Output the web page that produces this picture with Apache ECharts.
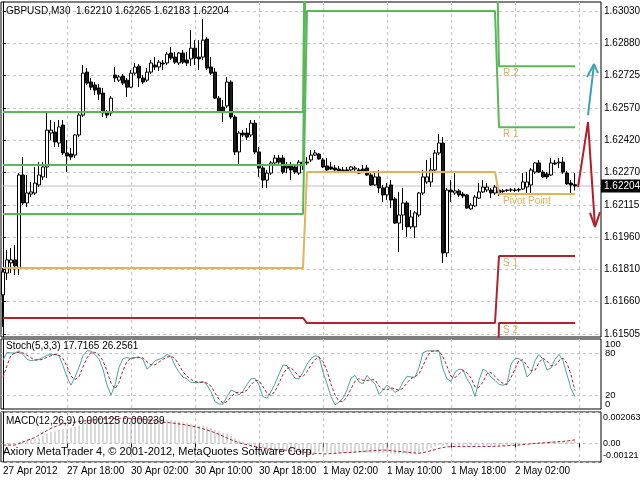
<!DOCTYPE html>
<html><head><meta charset="utf-8">
<script src="https://cdn.jsdelivr.net/npm/echarts@6/dist/echarts.min.js"></script>
<style>html,body{margin:0;padding:0;background:#fff}#c{width:640px;height:480px}</style>
</head><body><div id="c"></div>
<script>
const symbolName = 'GBPUSD,M30';
const openP = [1.61690,1.61793,1.61841,1.61855,1.61817,1.62256,1.62124,1.62166,1.62171,1.62209,
1.62247,1.62294,1.62454,1.62459,1.62407,1.62492,1.62360,1.62355,1.62350,1.62445,
1.62539,1.62742,1.62695,1.62681,1.62667,1.62643,1.62549,1.62549,1.62728,1.62704,
1.62723,1.62704,1.62671,1.62737,1.62770,1.62714,1.62704,1.62742,1.62775,1.62766,
1.62785,1.62785,1.62832,1.62813,1.62785,1.62832,1.62799,1.62804,1.62855,1.62813,
1.62813,1.62898,1.62766,1.62742,1.62619,1.62577,1.62582,1.62695,1.62530,1.62365,
1.62454,1.62454,1.62445,1.62501,1.62365,1.62289,1.62232,1.62265,1.62313,1.62336,
1.62336,1.62303,1.62303,1.62294,1.62265,1.62317,1.62313,1.62327,1.62350,1.62355,
1.62327,1.62299,1.62294,1.62289,1.62284,1.62280,1.62280,1.62280,1.62284,1.62280,
1.62284,1.62289,1.62256,1.62209,1.62247,1.62195,1.62162,1.62209,1.62143,1.62029,
1.62067,1.62124,1.62011,1.62011,1.62067,1.62171,1.62223,1.62223,1.62280,1.62360,
1.62407,1.61888,1.62185,1.62171,1.62181,1.62166,1.62162,1.62096,1.62110,1.62147,
1.62176,1.62185,1.62185,1.62171,1.62185,1.62181,1.62185,1.62185,1.62185,1.62185,
1.62190,1.62199,1.62209,1.62270,1.62313,1.62270,1.62261,1.62256,1.62313,1.62313,
1.62317,1.62265,1.62218,1.62210];
const highP = [1.61817,1.61902,1.61911,1.61926,1.62265,1.62341,1.62256,1.62223,1.62294,1.62317,
1.62317,1.62549,1.62516,1.62506,1.62516,1.62516,1.62421,1.62383,1.62450,1.62549,
1.62775,1.62761,1.62714,1.62695,1.62685,1.62667,1.62563,1.62629,1.62766,1.62728,
1.62733,1.62714,1.62752,1.62785,1.62780,1.62728,1.62761,1.62799,1.62813,1.62799,
1.62799,1.62837,1.62860,1.62837,1.62837,1.62846,1.62837,1.62940,1.62893,1.62893,
1.62992,1.62907,1.62813,1.62761,1.62629,1.62610,1.62719,1.62704,1.62539,1.62464,
1.62468,1.62478,1.62516,1.62516,1.62388,1.62303,1.62280,1.62322,1.62350,1.62350,
1.62350,1.62317,1.62317,1.62308,1.62327,1.62327,1.62341,1.62374,1.62374,1.62360,
1.62336,1.62336,1.62317,1.62303,1.62299,1.62294,1.62294,1.62299,1.62299,1.62289,
1.62303,1.62303,1.62265,1.62270,1.62280,1.62209,1.62218,1.62232,1.62152,1.62176,
1.62195,1.62133,1.62091,1.62086,1.62176,1.62280,1.62327,1.62336,1.62374,1.62450,
1.62435,1.62195,1.62232,1.62270,1.62190,1.62176,1.62166,1.62124,1.62162,1.62218,
1.62232,1.62218,1.62195,1.62209,1.62195,1.62190,1.62190,1.62195,1.62195,1.62195,
1.62265,1.62270,1.62289,1.62317,1.62327,1.62280,1.62270,1.62336,1.62327,1.62336,
1.62341,1.62275,1.62232,1.62265];
const lowP = [1.61539,1.61760,1.61793,1.61784,1.61784,1.62114,1.62105,1.62152,1.62162,1.62199,
1.62232,1.62242,1.62421,1.62388,1.62388,1.62350,1.62270,1.62327,1.62336,1.62435,
1.62530,1.62681,1.62657,1.62634,1.62610,1.62530,1.62525,1.62535,1.62695,1.62695,
1.62681,1.62624,1.62667,1.62728,1.62671,1.62685,1.62695,1.62733,1.62752,1.62747,
1.62752,1.62775,1.62799,1.62780,1.62775,1.62780,1.62770,1.62770,1.62775,1.62752,
1.62799,1.62752,1.62728,1.62615,1.62549,1.62506,1.62572,1.62520,1.62350,1.62303,
1.62435,1.62421,1.62435,1.62355,1.62247,1.62195,1.62195,1.62256,1.62303,1.62308,
1.62261,1.62265,1.62232,1.62261,1.62256,1.62280,1.62303,1.62317,1.62346,1.62327,
1.62289,1.62275,1.62280,1.62275,1.62265,1.62270,1.62270,1.62275,1.62275,1.62261,
1.62265,1.62251,1.62204,1.62204,1.62171,1.62129,1.62138,1.62100,1.62025,1.61893,
1.61996,1.61963,1.62001,1.61959,1.62058,1.62162,1.62214,1.62199,1.62270,1.62350,
1.61841,1.61869,1.62129,1.62162,1.62152,1.62147,1.62096,1.62091,1.62105,1.62143,
1.62171,1.62176,1.62147,1.62162,1.62157,1.62171,1.62176,1.62176,1.62176,1.62176,
1.62185,1.62171,1.62166,1.62261,1.62265,1.62242,1.62237,1.62251,1.62303,1.62289,
1.62261,1.62209,1.62171,1.62183];
const closeP = [1.61798,1.61855,1.61855,1.61827,1.62256,1.62124,1.62171,1.62176,1.62218,1.62256,
1.62294,1.62468,1.62468,1.62412,1.62483,1.62360,1.62346,1.62341,1.62445,1.62539,
1.62737,1.62690,1.62671,1.62657,1.62638,1.62549,1.62539,1.62619,1.62714,1.62719,
1.62690,1.62671,1.62737,1.62766,1.62714,1.62695,1.62742,1.62785,1.62766,1.62789,
1.62780,1.62827,1.62808,1.62789,1.62832,1.62789,1.62785,1.62855,1.62808,1.62804,
1.62893,1.62761,1.62737,1.62619,1.62553,1.62553,1.62695,1.62530,1.62365,1.62454,
1.62445,1.62435,1.62501,1.62365,1.62289,1.62232,1.62265,1.62313,1.62336,1.62317,
1.62270,1.62289,1.62280,1.62270,1.62317,1.62303,1.62317,1.62350,1.62360,1.62332,
1.62294,1.62280,1.62284,1.62280,1.62275,1.62277,1.62275,1.62294,1.62289,1.62265,
1.62270,1.62256,1.62209,1.62247,1.62195,1.62162,1.62199,1.62138,1.62029,1.62067,
1.62124,1.62011,1.62058,1.62077,1.62171,1.62247,1.62247,1.62280,1.62360,1.62407,
1.61888,1.62185,1.62176,1.62181,1.62162,1.62157,1.62100,1.62114,1.62152,1.62176,
1.62199,1.62199,1.62171,1.62199,1.62171,1.62178,1.62183,1.62186,1.62183,1.62188,
1.62223,1.62223,1.62280,1.62313,1.62270,1.62247,1.62247,1.62313,1.62308,1.62317,
1.62270,1.62214,1.62209,1.62204];

const timeLabels = ['27 Apr 2012','27 Apr 18:00','30 Apr 02:00','30 Apr 10:00','30 Apr 18:00','1 May 02:00','1 May 10:00','1 May 18:00','2 May 02:00'];
const timeLabelBars = [0,16,32,48,64,80,96,112,128];
const timeGridBars = [0,16,32,48,64,80,96,112,128,144];
const priceTicks = [1.61505,1.61660,1.61810,1.61960,1.62115,1.62270,1.62420,1.62570,1.62725,1.62880,1.63030];

const pivotDayStart = [0,76,124];
const pivotR3 = [1.62553,1.64500,1.63100];
const pivotR2 = [1.62303,1.63740,1.62770];
const pivotR1 = [1.62072,1.63030,1.62482];
const pivotPP = [1.61817,1.62270,1.62166];
const pivotS1 = [1.61581,1.61557,1.61873];
const pivotS2 = [1.61331,1.60800,1.61557];
const pivotS3 = [1.61095,1.60100,1.61267];
const pivotLabelBar = 125;

const stochK = [70,81,80,80,83,78,71,69,70,71,
73.5,77,78,78,76,62,45.6,34,45.6,59.5,
76,83,83,78,71,57,34,20,34,59.5,
72,73.5,72,73.5,74.5,71,57,62,69,71,
73.5,78,75,62,52.6,45.6,43,37.7,37.7,37.7,
39.5,34,24.7,10.7,7,7,17.7,27,24.7,20,
25.6,35,43,44,34,17.7,15.4,24.7,36,50,
62.8,62,52.6,44,43,52.6,64,72,76,75,
52.6,36,17.7,6,9.8,15.4,27,44,48,38.6,
36,48,41,36,21,27,34,29.3,23.7,27,
38.6,47,45.6,45.6,59.5,80.5,83,83,83,83,
57,43,39.5,52.6,57,56,43,34,17.7,41,
57,53.5,45.6,41,35,34,36,64,72,72,
66.5,45.6,51.7,69,78,71,56,58.5,71,78,
69,49,29.3,17.7165];
const stochD = [45,62,77,80,81,80,77,73,70,70,
71,74,76,78,77,72,61,47,42,46,
60,73,81,81,77,69,54,37,29,38,
55,68,72.5,73,73.3,73,67.5,63,63,67,
71,74,75.5,72,63,53,47,42,39.5,37.7,
38.3,37,32.7,23,14,8.2,10.6,17,23,24,
23.4,27,34.5,40.7,40.3,32,22.4,19.3,25.4,36.9,
49.6,58.3,59.1,52.9,46.5,46.5,53.2,62.9,70.7,74.3,
67.9,54.5,35.4,19.9,11.2,10.4,17.4,28.8,39.7,43.5,
40.9,40.9,41.7,41.7,32.7,28,27.3,30.1,29,26.7,
29.8,37.5,43.7,46.1,50.2,61.9,74.3,82.2,83,83,
74.3,61,46.5,45,49.7,55.2,52,44.3,31.6,30.9,
38.6,50.5,52,46.7,40.5,36.7,35,44.7,57.3,69.3,
70.2,61.4,54.6,55.4,66.2,72.7,68.3,61.8,61.8,69.2,
72.7,65.3,49.1,26.2561];
const stochLevelTicks = [20,80];
const stochRangeTicks = [0,100];

const macdMain = [-0.3e-4,-0.3e-4,-0.2e-4,0,1e-4,2e-4,2.5e-4,3e-4,3.5e-4,4e-4,
5e-4,6.5e-4,7.5e-4,8e-4,9e-4,9.5e-4,10e-4,10.5e-4,11e-4,12e-4,
14e-4,15e-4,15.5e-4,15.5e-4,15.5e-4,15e-4,14.5e-4,14.5e-4,15e-4,15.5e-4,
15.5e-4,15.5e-4,16e-4,16e-4,16e-4,16e-4,16e-4,16e-4,16e-4,16e-4,
15.5e-4,15.5e-4,15.5e-4,15e-4,14.5e-4,14e-4,13.5e-4,13e-4,12.5e-4,12e-4,
12e-4,11e-4,10e-4,9e-4,8e-4,7e-4,6.5e-4,5e-4,3.5e-4,2e-4,
1e-4,0,-0.5e-4,-1.5e-4,-2.5e-4,-3e-4,-3.5e-4,-3.5e-4,-3.5e-4,-3.5e-4,
-4e-4,-4e-4,-4.5e-4,-4.5e-4,-5e-4,-5e-4,-5.5e-4,-5.5e-4,-5.5e-4,-5.5e-4,
-6e-4,-6e-4,-6e-4,-6e-4,-6e-4,-6e-4,-6e-4,-6e-4,-6e-4,-6e-4,
-6e-4,-6e-4,-6e-4,-6e-4,-6.5e-4,-6.5e-4,-6.5e-4,-6.5e-4,-7e-4,-7e-4,
-7e-4,-7e-4,-7e-4,-6.5e-4,-6e-4,-5e-4,-4e-4,-3e-4,-2e-4,-1e-4,
-1.5e-4,-1.5e-4,-1.5e-4,-1.5e-4,-1.5e-4,-1.5e-4,-1.5e-4,-1.5e-4,-1.5e-4,-1.5e-4,
-1.5e-4,-1.5e-4,-1.5e-4,-1.5e-4,-1.5e-4,-1.5e-4,-1e-4,-1e-4,-0.5e-4,-0.5e-4,
0,0,0.5e-4,0.5e-4,1e-4,1e-4,1e-4,1.5e-4,1.5e-4,1.5e-4,
1.5e-4,1.5e-4,1.5e-4,1.25e-4];
const macdSignal = [-0.1e-3,-0.1e-3,-0.1e-3,-0.1e-3,0,0.1e-3,0.2e-3,0.3e-3,0.4e-3,0.55e-3,
0.7e-3,0.85e-3,1.0e-3,1.1e-3,1.2e-3,1.3e-3,1.32e-3,1.36e-3,1.4e-3,1.44e-3,
1.47e-3,1.5e-3,1.53e-3,1.56e-3,1.6e-3,1.61e-3,1.62e-3,1.63e-3,1.65e-3,1.65e-3,
1.65e-3,1.65e-3,1.65e-3,1.64e-3,1.62e-3,1.6e-3,1.56e-3,1.53e-3,1.5e-3,1.45e-3,
1.4e-3,1.38e-3,1.35e-3,1.32e-3,1.28e-3,1.25e-3,1.2e-3,1.15e-3,1.1e-3,1.04e-3,
0.96e-3,0.88e-3,0.8e-3,0.71e-3,0.6e-3,0.48e-3,0.36e-3,0.25e-3,0.15e-3,0.05e-3,
-0.02e-3,-0.08e-3,-0.14e-3,-0.2e-3,-0.25e-3,-0.3e-3,-0.32e-3,-0.35e-3,-0.38e-3,-0.41e-3,
-0.43e-3,-0.45e-3,-0.48e-3,-0.5e-3,-0.53e-3,-0.56e-3,-0.59e-3,-0.62e-3,-0.64e-3,-0.66e-3,
-0.68e-3,-0.68e-3,-0.66e-3,-0.64e-3,-0.62e-3,-0.6e-3,-0.59e-3,-0.58e-3,-0.56e-3,-0.54e-3,
-0.52e-3,-0.5e-3,-0.48e-3,-0.46e-3,-0.44e-3,-0.43e-3,-0.44e-3,-0.47e-3,-0.5e-3,-0.52e-3,
-0.54e-3,-0.57e-3,-0.6e-3,-0.62e-3,-0.64e-3,-0.6e-3,-0.53e-3,-0.47e-3,-0.4e-3,-0.32e-3,
-0.26e-3,-0.22e-3,-0.2e-3,-0.2e-3,-0.2e-3,-0.2e-3,-0.2e-3,-0.2e-3,-0.2e-3,-0.2e-3,
-0.2e-3,-0.2e-3,-0.19e-3,-0.18e-3,-0.17e-3,-0.16e-3,-0.15e-3,-0.13e-3,-0.11e-3,-0.1e-3,
-0.07e-3,-0.05e-3,-0.02e-3,0,0.02e-3,0.04e-3,0.06e-3,0.08e-3,0.1e-3,0.12e-3,
0.14e-3,0.17e-3,0.2e-3,0.239e-3];
const macdTicks = [-0.00121,0,0.002063];

// hand-drawn arrow objects (bar index, price)
const arrowUpPath = [[146.25,1.62539],[147.75,1.62780]];
const arrowUpHead = [[146.0,1.62719],[147.75,1.62780],[148.75,1.62737]];
const arrowDownPath = [[143.75,1.62199],[146.25,1.62506],[148.0,1.62011]];
const arrowDownHead = [[146.75,1.62077],[148.0,1.62011],[149.25,1.62081]];

const FONT = 'Liberation Sans, Arial, sans-serif';
const X_MIN = -0.5, X_MAX = 149.5;
const last = closeP.length - 1;
const bars = closeP.map((_, i) => i);
function levelAt(arr, i) {
  let d = 0;
  for (let k = 0; k < pivotDayStart.length; k++) if (i >= pivotDayStart[k]) d = k;
  return arr[d];
}
function fmtTime(v) {
  const k = timeLabelBars.indexOf(Math.round(v));
  return k >= 0 ? timeLabels[k] : '';
}
const gridLine = {show: true, lineStyle: {color: '#c4c4c4', type: [3, 3], width: 1}};
function xAx(gi, showLabels) {
  return {
    type: 'value', gridIndex: gi, min: X_MIN, max: X_MAX,
    axisLine: {show: false},
    axisTick: {show: showLabels, customValues: timeGridBars, length: 4, lineStyle: {color: '#000'}},
    axisLabel: {show: showLabels, customValues: timeLabelBars, formatter: fmtTime, align: 'left',
      margin: 4, fontSize: 10, color: '#000', fontFamily: FONT},
    splitLine: gridLine
  };
}
const gridBase = {show: true, borderColor: '#000', borderWidth: 1, backgroundColor: '#fff', outerBoundsMode: 'none', containLabel: false};
const pivotDefs = [
  {arr: pivotR3, color: '#58b858', label: null},
  {arr: pivotR2, color: '#58b858', label: 'R 2'},
  {arr: pivotR1, color: '#58b858', label: 'R 1'},
  {arr: pivotPP, color: '#e2b45a', label: 'Pivot Point'},
  {arr: pivotS1, color: '#b3222c', label: 'S 1'},
  {arr: pivotS2, color: '#b3222c', label: 'S 2'},
  {arr: pivotS3, color: '#b3222c', label: null}
];
const pivotSeries = pivotDefs.map(p => {
  const s = {
    type: 'line', xAxisIndex: 0, yAxisIndex: 0, symbol: 'none', silent: true, z: 3,
    data: bars.map(i => [i, levelAt(p.arr, i)]),
    lineStyle: {color: p.color, width: 2}
  };
  if (p.label) {
    s.markPoint = {
      symbol: 'circle', symbolSize: 0, silent: true,
      data: [{coord: [pivotLabelBar, p.arr[p.arr.length - 1]], value: p.label}],
      label: {show: true, position: [0, 2], formatter: p.label, color: '#dcb060', fontSize: 10, fontFamily: FONT}
    };
  }
  return s;
});
function arrowSeries(pts, color) {
  return {type: 'line', xAxisIndex: 0, yAxisIndex: 0, symbol: 'none', silent: true, z: 4,
    data: pts, lineStyle: {color: color, width: 2}};
}
const edgeLabelRich = (pt, pb, fs) => ({
  t: {padding: [pt, 0, 0, 0], fontSize: fs, color: '#000', fontFamily: FONT},
  b: {padding: [0, 0, pb, 0], fontSize: fs, color: '#000', fontFamily: FONT}
});

const option = {
  animation: false,
  textStyle: {fontFamily: FONT},
  title: [
    {left: 6, top: 6, text: symbolName + '  ' + [openP[last], highP[last], lowP[last], closeP[last]].map(v => v.toFixed(5)).join(' '),
      textStyle: {fontSize: 10, fontWeight: 'normal', color: '#000', fontFamily: FONT}, padding: 0},
    {left: 6, top: 341, text: 'Stoch(5,3,3) ' + stochK[last].toFixed(4) + ' ' + stochD[last].toFixed(4),
      textStyle: {fontSize: 10, fontWeight: 'normal', color: '#000', fontFamily: FONT}, padding: 0},
    {left: 6, top: 416, text: 'MACD(12,26,9) ' + macdMain[last].toFixed(6) + ' ' + macdSignal[last].toFixed(6),
      textStyle: {fontSize: 10, fontWeight: 'normal', color: '#000', fontFamily: FONT}, padding: 0},
    {left: 3, top: 446, text: 'Axiory MetaTrader 4, \u00a9 2001-2012, MetaQuotes Software Corp.',
      textStyle: {fontSize: 11, fontWeight: 'normal', color: '#000', fontFamily: FONT}, padding: 0}
  ],
  grid: [
    Object.assign({left: 1, top: 2, width: 600, height: 335}, gridBase),
    Object.assign({left: 1, top: 339, width: 600, height: 70}, gridBase),
    Object.assign({left: 1, top: 412, width: 600, height: 50}, gridBase)
  ],
  xAxis: [xAx(0, false), xAx(1, false), xAx(2, true)],
  yAxis: [
    {type: 'value', gridIndex: 0, position: 'right', min: 1.61491, max: 1.63073,
      axisLine: {show: true, lineStyle: {color: '#000'}},
      axisTick: {show: true, customValues: priceTicks, length: 3, lineStyle: {color: '#000'}},
      axisLabel: {customValues: priceTicks, formatter: v => v.toFixed(5), margin: 3, fontSize: 10, color: '#000', fontFamily: FONT},
      splitLine: gridLine},
    {type: 'value', gridIndex: 1, position: 'right', min: 0, max: 100,
      axisLine: {show: true, lineStyle: {color: '#000'}},
      axisTick: {show: false, customValues: stochLevelTicks},
      axisLabel: {customValues: stochLevelTicks, margin: 4, fontSize: 9.5, color: '#000', fontFamily: FONT,
        showMinLabel: true, showMaxLabel: true},
      splitLine: gridLine},
    {type: 'value', gridIndex: 2, position: 'right', min: macdTicks[0], max: macdTicks[2],
      axisLine: {show: true, lineStyle: {color: '#000'}},
      axisTick: {show: false, customValues: macdTicks},
      axisLabel: {customValues: macdTicks, margin: 2, fontSize: 9, color: '#000', fontFamily: FONT,
        showMinLabel: true, showMaxLabel: true, hideOverlap: false,
        formatter: v => v === 0 ? '0.00' : (v > 0 ? '{t|' + String(v) + '}' : '{b|' + String(v) + '}'),
        rich: edgeLabelRich(12, 12, 9)},
      splitLine: gridLine},
    {type: 'value', gridIndex: 1, position: 'right', min: 0, max: 100,
      axisLine: {show: false}, splitLine: {show: false},
      axisTick: {show: false, customValues: stochRangeTicks},
      axisLabel: {customValues: stochRangeTicks, margin: 4, fontSize: 9.5, color: '#000', fontFamily: FONT,
        showMinLabel: true, showMaxLabel: true, hideOverlap: false,
        formatter: v => v === 100 ? '{t|100}' : '{b|0}',
        rich: edgeLabelRich(11, 9, 9.5)}}
  ],
  series: [
    {type: 'line', xAxisIndex: 0, yAxisIndex: 0, symbol: 'none', silent: true, z: 1,
      data: [[X_MIN, closeP[last]], [X_MAX, closeP[last]]],
      lineStyle: {color: '#c0c0c0', width: 1},
      endLabel: {show: true, distance: 0, formatter: () => closeP[last].toFixed(5), backgroundColor: '#000', color: '#fff',
        padding: [2, 3, 1, 3], fontSize: 10, fontFamily: FONT}},
    {type: 'candlestick', xAxisIndex: 0, yAxisIndex: 0, barWidth: 3, z: 2,
      encode: {x: 0, y: [1, 2, 3, 4]},
      data: bars.map(i => [i, openP[i], closeP[i], lowP[i], highP[i]]),
      itemStyle: {color: '#ffffff', color0: '#1a1a1a', borderColor: '#000', borderColor0: '#000', borderWidth: 1}},
    ...pivotSeries,
    arrowSeries(arrowUpPath, '#3aa4b2'), arrowSeries(arrowUpHead, '#3aa4b2'),
    arrowSeries(arrowDownPath, '#b51d2a'), arrowSeries(arrowDownHead, '#b51d2a'),
    {type: 'line', xAxisIndex: 1, yAxisIndex: 1, symbol: 'none', silent: true,
      data: stochK.map((v, i) => [i, v]), lineStyle: {color: '#4da3a3', width: 1}},
    {type: 'line', xAxisIndex: 1, yAxisIndex: 1, symbol: 'none', silent: true,
      data: stochD.map((v, i) => [i, v]), lineStyle: {color: '#a3262e', width: 1, type: [3, 2]}},
    {type: 'bar', xAxisIndex: 2, yAxisIndex: 2, barWidth: 1, silent: true,
      data: macdMain.map((v, i) => [i, v]),
      itemStyle: {color: '#b4b4b4'}},
    {type: 'line', xAxisIndex: 2, yAxisIndex: 2, symbol: 'none', silent: true, z: 3,
      data: macdSignal.map((v, i) => [i, v]), lineStyle: {color: '#a3262e', width: 1, type: [3, 2]}}
  ]
};
const chart = echarts.init(document.getElementById('c'), null, {renderer: 'canvas'});
chart.setOption(option);
</script></body></html>
